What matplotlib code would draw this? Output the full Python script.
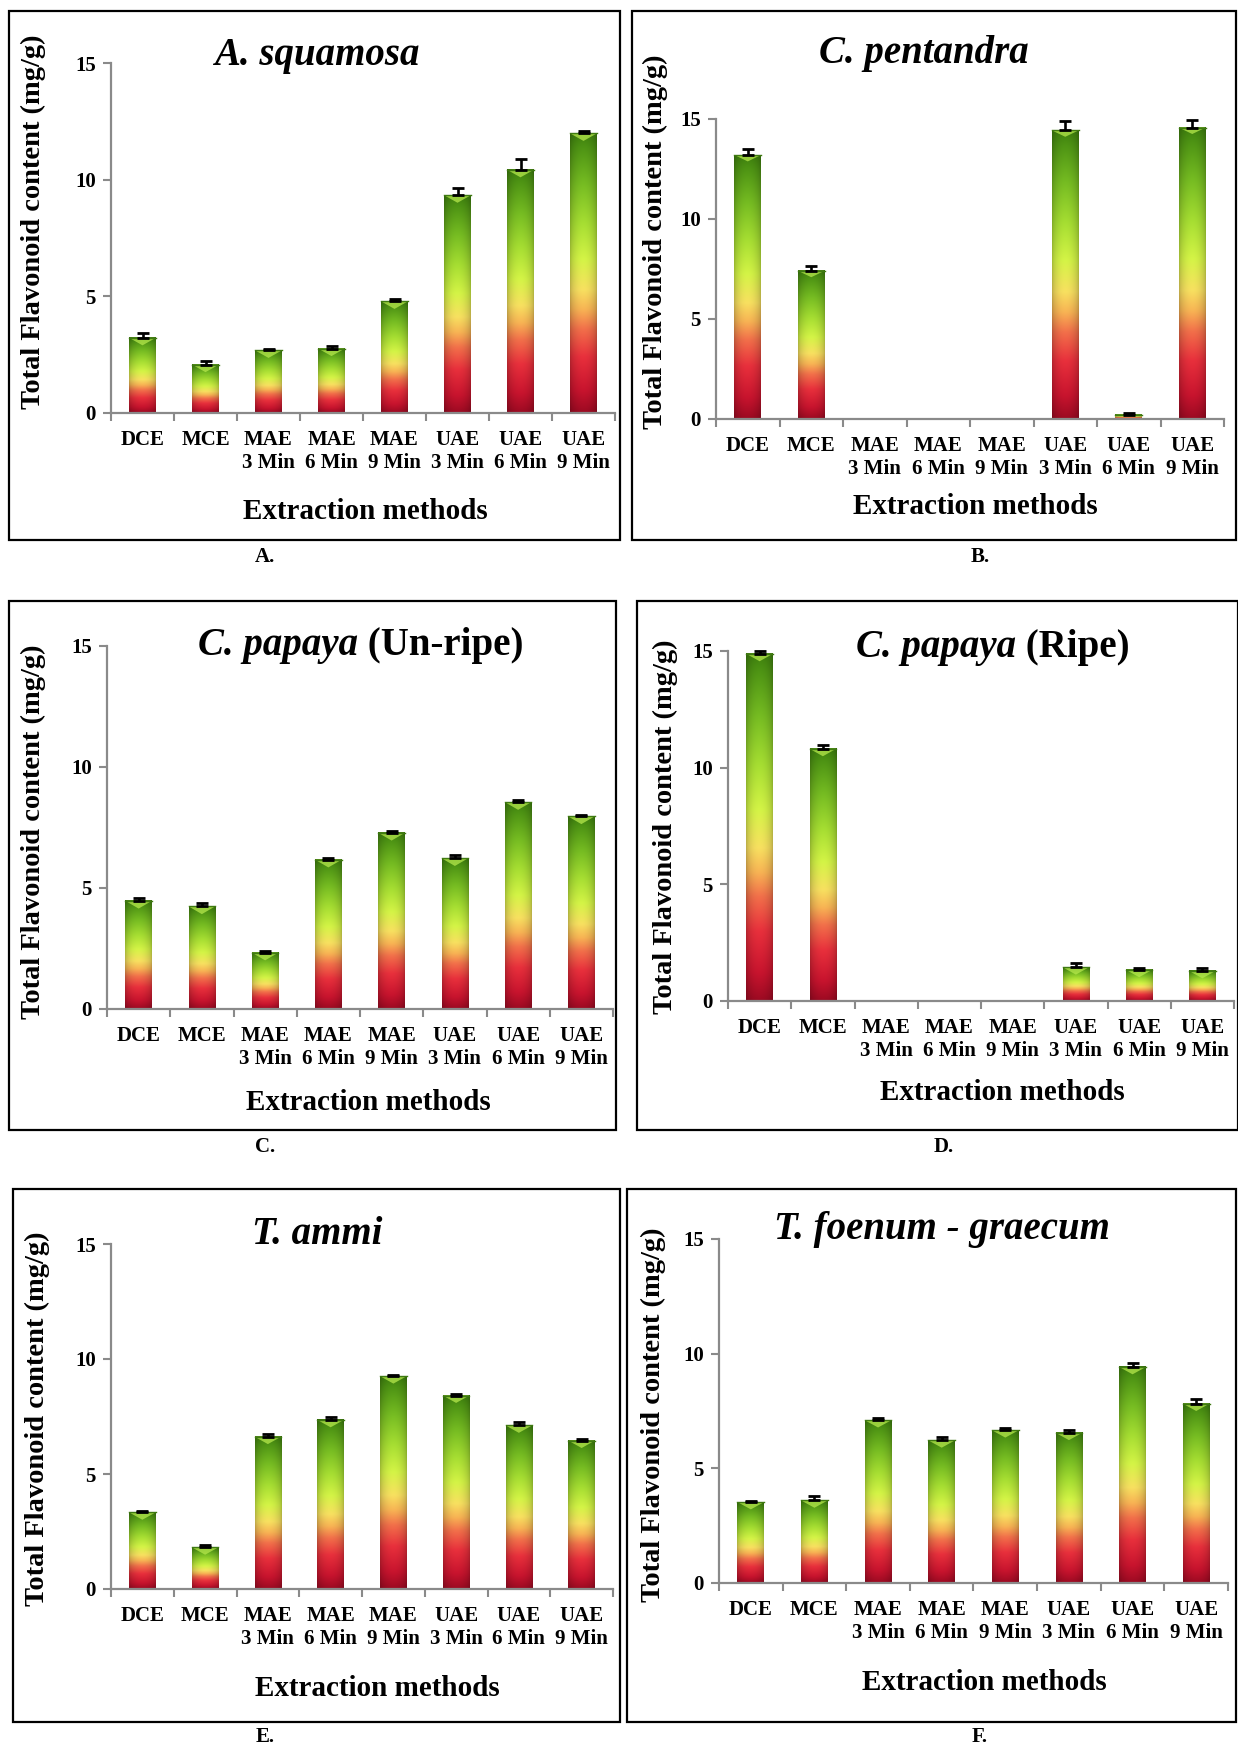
import numpy as np
import matplotlib
matplotlib.use('Agg')
import matplotlib.pyplot as plt
from matplotlib.colors import LinearSegmentedColormap
from matplotlib.patches import Rectangle, Polygon

plt.rcParams['font.family'] = 'Liberation Serif'
plt.rcParams['font.weight'] = 'bold'

methods = ['DCE', 'MCE', 'MAE\n3 Min', 'MAE\n6 Min', 'MAE\n9 Min',
           'UAE\n3 Min', 'UAE\n6 Min', 'UAE\n9 Min']

# total flavonoid content (mg/g) and upper error
a_vals = [3.22, 2.07, 2.68, 2.76, 4.78, 9.33, 10.42, 11.98]
a_err = [0.21, 0.14, 0.08, 0.12, 0.12, 0.30, 0.47, 0.12]
b_vals = [13.2, 7.41, 0, 0, 0, 14.43, 0.22, 14.57]
b_err = [0.30, 0.24, 0, 0, 0, 0.49, 0.08, 0.37]
c_vals = [4.47, 4.24, 2.33, 6.17, 7.28, 6.23, 8.55, 7.96]
c_err = [0.12, 0.14, 0.08, 0.07, 0.08, 0.12, 0.07, 0.07]
d_vals = [14.88, 10.81, 0, 0, 0, 1.45, 1.34, 1.29]
d_err = [0.12, 0.18, 0, 0, 0, 0.16, 0.08, 0.14]
e_vals = [3.33, 1.81, 6.62, 7.35, 9.25, 8.41, 7.11, 6.45]
e_err = [0.08, 0.12, 0.13, 0.13, 0.06, 0.08, 0.14, 0.08]
f_vals = [3.53, 3.60, 7.10, 6.22, 6.66, 6.55, 9.42, 7.82]
f_err = [0.05, 0.20, 0.08, 0.13, 0.12, 0.14, 0.19, 0.22]

# title pieces: (text, font style)
titles = [[('A. squamosa', 'italic')],
          [('C. pentandra', 'italic')],
          [('C. papaya', 'italic'), (' (Un-ripe)', 'normal')],
          [('C. papaya', 'italic'), (' (Ripe)', 'normal')],
          [('T. ammi', 'italic')],
          [('T. foenum - graecum', 'italic')]]
letters = ['A.', 'B.', 'C.', 'D.', 'E.', 'F.']

W, H = 1238, 1746
fig = plt.figure(figsize=(W / 100, H / 100), dpi=100)
renderer = fig.canvas.get_renderer()

grad = LinearSegmentedColormap.from_list('rg', [
    (0.0, '#9c0a22'), (0.08, '#c8142e'), (0.2, '#e8303c'), (0.3, '#f2704a'),
    (0.37, '#f8b454'), (0.44, '#f8e060'), (0.55, '#d4f446'), (0.68, '#a6de32'),
    (0.82, '#76bc22'), (0.95, '#4e9414'), (1.0, '#3e800e')])

ys = np.linspace(0, 1, 256)[:, None]
xs = np.linspace(0, 1, 48)[None, :]
shade = 0.76 + 0.24 * np.sin(np.pi * xs) ** 0.6
bar_img = grad(ys)[..., :3] * shade[..., None]
bar_img = np.clip(bar_img, 0, 1)


def px_rect(l, t, r, b):
    return [l / W, 1 - b / H, (r - l) / W, (b - t) / H]


def title_text(parts, cx, cy):
    texts = [fig.text(0, 1 - cy / H, s, fontsize=28, fontstyle=st, ha='left',
                      va='center') for s, st in parts]
    widths = [t.get_window_extent(renderer).width for t in texts]
    x = cx - sum(widths) / 2
    for t, wd in zip(texts, widths):
        t.set_x(x / W)
        x += wd


def panel(box, axpos, vals, err, title, tpos, ylpos, xlpos, letter, lpos):
    fig.add_artist(Rectangle((box[0] / W, 1 - box[3] / H), (box[2] - box[0]) / W,
                             (box[3] - box[1]) / H, transform=fig.transFigure,
                             fill=False, edgecolor='black', linewidth=1.6))
    ax = fig.add_axes(px_rect(*axpos))
    ax.patch.set_alpha(0)
    x = np.arange(len(vals))
    vals = np.array(vals)
    err = np.array(err)
    w = 0.42
    bars = ax.bar(x, vals, width=w, color='none', edgecolor='none')
    for b, v in zip(bars, vals):
        if v <= 0:
            continue
        x0 = b.get_x()
        ax.imshow(bar_img, extent=(x0, x0 + w, 0, v), origin='lower',
                  aspect='auto', zorder=2, interpolation='bilinear')
        if v > 0.6:
            d = 0.32
            ax.add_patch(Polygon([(x0, v), (x0 + w, v), (x0 + w / 2, v - d)],
                                 closed=True, facecolor='#b6e84c', alpha=0.75,
                                 edgecolor='none', zorder=2.5))
        ax.plot([x0, x0 + w], [v, v], color='#3f7a12', lw=1.0, zorder=2.6)
    m = vals > 0
    ax.errorbar(x[m], vals[m], yerr=[np.zeros(m.sum()), err[m]], fmt='none',
                ecolor='black', elinewidth=1.9, capsize=4.0, capthick=2.0,
                zorder=3, clip_on=False)
    ax.set_xlim(-0.5, 7.5)
    ax.set_ylim(0, 15)
    for s in ['top', 'right']:
        ax.spines[s].set_visible(False)
    for s in ['left', 'bottom']:
        ax.spines[s].set_color('#8a8a8a')
        ax.spines[s].set_linewidth(1.6)
    ax.set_yticks([0, 5, 10, 15])
    ax.tick_params(axis='y', color='#8a8a8a', labelcolor='black', length=6,
                   width=1.5, labelsize=15, pad=5)
    ax.set_xticks(x)
    ax.set_xticklabels(methods, fontsize=15, linespacing=1.2)
    ax.tick_params(axis='x', which='major', length=0, pad=12.5)
    ax.set_xticks(np.arange(-0.5, 8, 1), minor=True)
    ax.tick_params(axis='x', which='minor', length=6, width=1.5, color='#8a8a8a')
    title_text(title, *tpos)
    fig.text(ylpos[0] / W, 1 - ylpos[1] / H, 'Total Flavonoid content (mg/g)',
             fontsize=20.5, rotation=90, ha='center', va='center')
    fig.text(xlpos[0] / W, 1 - xlpos[1] / H, 'Extraction methods', fontsize=21,
             ha='center', va='center')
    fig.text(lpos[0] / W, 1 - lpos[1] / H, letter, fontsize=15, ha='center',
             va='center')
    return ax


panel((9, 11, 620, 540), (111, 63, 615, 413), a_vals, a_err, titles[0],
      (317, 55), (33, 222), (365, 511), letters[0], (265, 557))
panel((632, 11, 1236, 540), (716, 119, 1224, 419), b_vals, b_err, titles[1],
      (924, 53), (655, 242), (975, 506), letters[1], (980, 557))
panel((9, 601, 616, 1130), (107, 646, 613, 1009), c_vals, c_err, titles[2],
      (361, 646), (33, 832), (368, 1102), letters[2], (265, 1147))
panel((637, 601, 1238, 1130), (728, 651, 1234, 1001), d_vals, d_err, titles[3],
      (993, 648), (665, 827), (1002, 1093), letters[3], (944, 1147))
panel((13, 1189, 620, 1722), (111, 1244, 613, 1589), e_vals, e_err, titles[4],
      (317, 1234), (37, 1419), (377, 1689), letters[4], (265, 1737))
panel((627, 1189, 1236, 1722), (719, 1239, 1228, 1583), f_vals, f_err, titles[5],
      (942, 1230), (653, 1415), (984, 1683), letters[5], (980, 1737))

fig.savefig('out.png', dpi=100)
